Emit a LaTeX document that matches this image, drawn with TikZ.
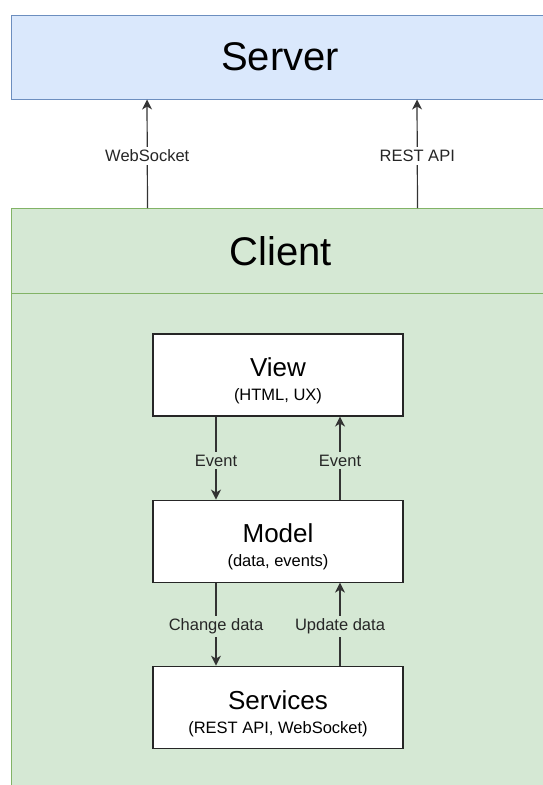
\documentclass[tikz,border=0pt]{standalone}
\usepackage{fontspec}
\setmainfont{Liberation Sans}
\usetikzlibrary{positioning, arrows.meta}
\definecolor{serverfill}{HTML}{DAE8FC}
\definecolor{serverline}{HTML}{6C8EBF}
\definecolor{clientfill}{HTML}{D5E8D4}
\definecolor{clientline}{HTML}{82B366}
\newcommand{\parttitle}[1]{{\fontsize{26}{24}\selectfont\rule{0pt}{31pt}#1}}

\tikzset{
  layer/.style={draw, line width=1pt, minimum width=538pt, inner sep=0pt, font=\fontsize{40}{48}\selectfont},
  part/.style={draw=black!85, fill=white, line width=1.1pt, minimum width=250pt, minimum height=82pt,
    align=center, inner sep=0pt, font=\fontsize{16.5}{24}\selectfont},
  lbl/.style={font=\fontsize{16.5}{20}\selectfont, text=black!85, inner sep=3pt},
  flow/.style={-{Stealth[length=10pt,width=10pt,inset=3pt]}, line width=1.2pt, draw=black!80},
}

\begin{document}
\begin{tikzpicture}[x=1pt, y=-1pt]
    \useasboundingbox (0,0) rectangle (543,785);
    \clip (0,0) rectangle (543,785);

    % layers
    \node [layer, fill=serverfill, draw=serverline, minimum height=84pt] (server) at (280,57) {Server};
    \node [layer, fill=clientfill, draw=clientline, minimum height=600pt, anchor=north west] (client) at (11,208) {};
    \node [layer, fill=clientfill, draw=clientline, minimum height=85pt, anchor=north west] (clienthead) at (11,208) {Client};

    % client parts
    \node [part] (view) at (278,375) {\parttitle{View}\\(HTML, UX)};
    \node [part, below=83pt of view] (model) {\parttitle{Model}\\(data, events)};
    \node [part, below=83pt of model] (services) {\parttitle{Services}\\(REST API, WebSocket)};

    % client to server
    \draw [flow] ([xshift=-133pt]clienthead.north) -- ([xshift=-133pt]server.south)
        node [lbl, pos=0.48, fill=white] (ws) {WebSocket};
    \draw [flow] ([xshift=137pt]clienthead.north) -- ([xshift=137pt]server.south)
        node [lbl, pos=0.48, fill=white] (rest) {REST API};

    % inside the client
    \draw [flow] ([xshift=-62pt]view.south) -- ([xshift=-62pt]model.north)
        node [lbl, pos=0.53, fill=clientfill] (evdown) {Event};
    \draw [flow] ([xshift=62pt]model.north) -- ([xshift=62pt]view.south)
        node [lbl, pos=0.47, fill=clientfill] (evup) {Event};
    \draw [flow] ([xshift=-62pt]model.south) -- ([xshift=-62pt]services.north)
        node [lbl, pos=0.53, fill=clientfill] (change) {Change data};
    \draw [flow] ([xshift=62pt]services.north) -- ([xshift=62pt]model.south)
        node [lbl, pos=0.47, fill=clientfill] (update) {Update data};
\end{tikzpicture}
\end{document}
